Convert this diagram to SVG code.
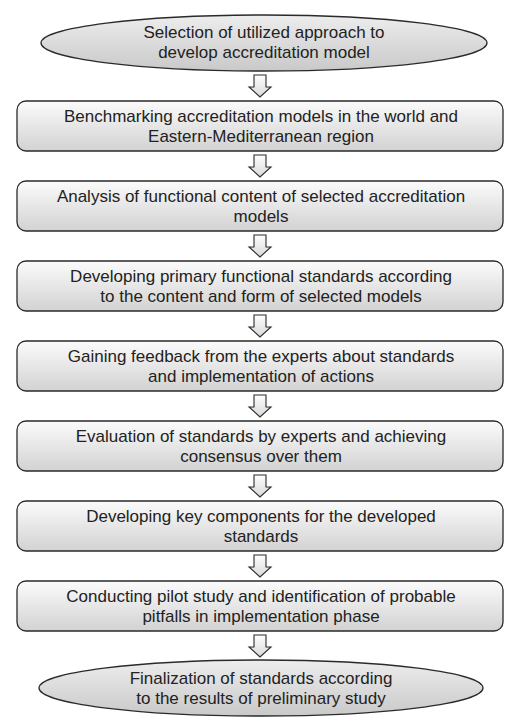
<svg xmlns="http://www.w3.org/2000/svg" width="519" height="726" viewBox="0 0 519 726">
<defs>
<linearGradient id="gb" x1="0" y1="0" x2="0" y2="1">
<stop offset="0" stop-color="#fbfbfb"/>
<stop offset="1" stop-color="#d2d2d2"/>
</linearGradient>
<linearGradient id="ge" x1="0" y1="0" x2="0" y2="1">
<stop offset="0" stop-color="#ededed"/>
<stop offset="1" stop-color="#c9c9c9"/>
</linearGradient>
<linearGradient id="ga" x1="0" y1="0" x2="0" y2="1">
<stop offset="0" stop-color="#ffffff"/>
<stop offset="1" stop-color="#d8d8d8"/>
</linearGradient>
</defs>
<style>
.box{fill:url(#gb);stroke:#2a2a2a;stroke-width:1.3}
.ell{fill:url(#ge);stroke:#2a2a2a;stroke-width:1.3}
.arr{fill:url(#ga);stroke:#2a2a2a;stroke-width:1.1;stroke-linejoin:miter}
text{font-family:"Liberation Sans",Arial,sans-serif;font-size:17px;fill:#222;text-anchor:middle}
</style>
<rect width="519" height="726" fill="#fff"/>
<g id="connectors">
<path class="arr" d="M254,75 H266 V87 H271 L260,97 L249,87 H254 Z"/>
<path class="arr" d="M254,155 H266 V167 H271 L260,177 L249,167 H254 Z"/>
<path class="arr" d="M254,235 H266 V247 H271 L260,257 L249,247 H254 Z"/>
<path class="arr" d="M254,315 H266 V327 H271 L260,337 L249,327 H254 Z"/>
<path class="arr" d="M254,395 H266 V407 H271 L260,417 L249,407 H254 Z"/>
<path class="arr" d="M254,475 H266 V487 H271 L260,497 L249,487 H254 Z"/>
<path class="arr" d="M254,555 H266 V567 H271 L260,577 L249,567 H254 Z"/>
<path class="arr" d="M254,635 H266 V647 H271 L260,657 L249,647 H254 Z"/>
</g>
<g id="n0">
<ellipse class="ell" cx="264" cy="43" rx="223" ry="28"/>
<text x="264" y="38">Selection of utilized approach to</text>
<text x="264" y="58">develop accreditation model</text>
</g>
<g id="n1">
<rect class="box" x="17" y="101" width="486" height="50" rx="9"/>
<text x="261" y="122">Benchmarking accreditation models in the world and</text>
<text x="261" y="142">Eastern-Mediterranean region</text>
</g>
<g id="n2">
<rect class="box" x="17" y="181" width="486" height="50" rx="9"/>
<text x="261" y="202">Analysis of functional content of selected accreditation</text>
<text x="261" y="222">models</text>
</g>
<g id="n3">
<rect class="box" x="17" y="261" width="486" height="50" rx="9"/>
<text x="261" y="282">Developing primary functional standards according</text>
<text x="261" y="302">to the content and form of selected models</text>
</g>
<g id="n4">
<rect class="box" x="17" y="341" width="486" height="50" rx="9"/>
<text x="261" y="362">Gaining feedback from the experts about standards</text>
<text x="261" y="382">and implementation of actions</text>
</g>
<g id="n5">
<rect class="box" x="17" y="421" width="486" height="50" rx="9"/>
<text x="261" y="442">Evaluation of standards by experts and achieving</text>
<text x="261" y="462">consensus over them</text>
</g>
<g id="n6">
<rect class="box" x="17" y="501" width="486" height="50" rx="9"/>
<text x="261" y="522">Developing key components for the developed</text>
<text x="261" y="542">standards</text>
</g>
<g id="n7">
<rect class="box" x="17" y="581" width="486" height="50" rx="9"/>
<text x="261" y="602">Conducting pilot study and identification of probable</text>
<text x="261" y="622">pitfalls in implementation phase</text>
</g>
<g id="n8">
<ellipse class="ell" cx="261" cy="688" rx="222" ry="28"/>
<text x="261" y="684">Finalization of standards according</text>
<text x="261" y="704">to the results of preliminary study</text>
</g>
</svg>
